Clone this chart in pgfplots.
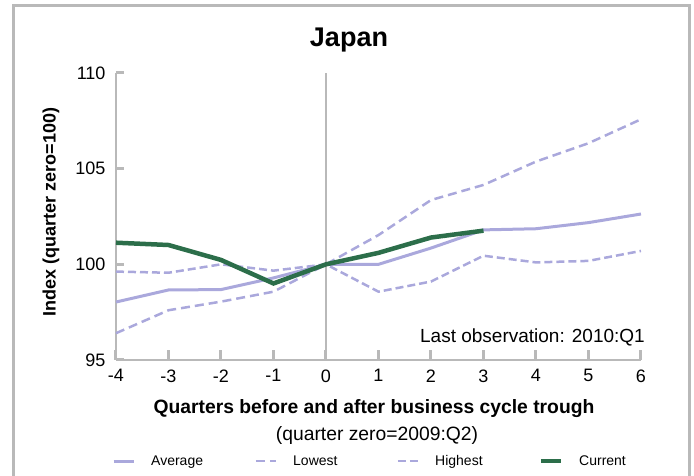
\documentclass[border=0pt]{standalone}
\usepackage{pgfplots}
\pgfplotsset{compat=1.18}
\usepackage{fontspec}
\setmainfont{Liberation Sans}
\definecolor{lav}{RGB}{170,168,220}
\definecolor{cur}{RGB}{44,110,74}
\definecolor{axg}{RGB}{185,185,185}
\begin{document}
\begin{tikzpicture}[x=1pt,y=1pt]
\path[use as bounding box] (0,0) rectangle (694,476);
\draw[line width=3pt, axg] (13.5,0) -- (13.5,470) -- (689,470) -- (689,0);
\begin{axis}[
  at={(116pt,116pt)}, anchor=south west,
  scale only axis, width=525pt, height=287pt,
  xmin=-4, xmax=6, ymin=95, ymax=110,
  axis x line*=bottom, axis y line*=left,
  axis line style={axg, line width=2.5pt},
  major tick length=0pt,
  xtick={-4,...,6}, ytick={95,100,105,110},
  /pgf/number format/assume math mode=true,
  ticklabel style={font=\fontsize{18}{21}\selectfont},
  xticklabel style={yshift=-6pt},
  yticklabel style={xshift=-7pt},
  clip=false,
  legend columns=4,
  legend style={at={(axis description cs:-0.0076,-0.352)}, anchor=west,
    draw=none, inner sep=0pt, font=\fontsize{14}{16}\selectfont,
    nodes={inner sep=0pt},
    /tikz/every odd column/.append style={column sep=16pt}},
  legend image code/.code={\draw[#1] (0pt,0pt) -- (20pt,0pt);},
]
\draw[axg, line width=2.5pt] (axis cs:0,95) -- (axis cs:0,110);
\pgfplotsinvokeforeach{-4,-3,-2,-1,0,1,2,3,4,5,6}{\draw[axg, line width=3pt] (axis cs:#1,95) -- (axis cs:#1,95.5);}
\pgfplotsinvokeforeach{95,100,105,110}{\draw[axg, line width=3pt] (axis cs:-4,#1) -- (axis cs:-3.85,#1);}
\addplot[lav, line width=3pt] coordinates {
 (-4,98.03) (-3,98.66) (-2,98.68) (-1,99.29) (0,100) (1,100.0) (2,100.85) (3,101.8) (4,101.86) (5,102.18) (6,102.63)};
\addlegendentry{\makebox[103.5pt][l]{Average}}
\addplot[lav, line width=2.5pt, dash pattern=on 9pt off 5pt] coordinates {
 (-4,96.4) (-3,97.6) (-2,98.05) (-1,98.57) (0,100) (1,101.53) (2,103.36) (3,104.15) (4,105.37) (5,106.33) (6,107.58)};
\addlegendentry{\makebox[103.5pt][l]{Lowest}}
\addplot[lav, line width=2.5pt, dash pattern=on 8pt off 4pt] coordinates {
 (-4,99.62) (-3,99.56) (-2,100.0) (-1,99.67) (0,100) (1,98.57) (2,99.1) (3,100.45) (4,100.1) (5,100.18) (6,100.7)};
\addlegendentry{\makebox[103.5pt][l]{Highest}}
\addplot[cur, line width=4.5pt] coordinates {
 (-4,101.13) (-3,101.01) (-2,100.23) (-1,99.0) (0,100) (1,100.6) (2,101.4) (3,101.76)};
\addlegendentry{Current}
\end{axis}
\node[font=\fontsize{27}{30}\bfseries] at (349,436) {Japan};
\node[font=\fontsize{19.3}{22}\bfseries] at (374,67) {Quarters before and after business cycle trough};
\node[font=\fontsize{19.3}{22}\selectfont] at (377,40) {(quarter zero=2009:Q2)};
\node[font=\fontsize{18}{22}\bfseries, rotate=90] at (51,264) {Index (quarter zero=100)};
\node[font=\fontsize{19}{22}\selectfont, anchor=base east, inner sep=0pt] at (645,133) {Last observation: 2010:Q1};
\end{tikzpicture}
\end{document}
